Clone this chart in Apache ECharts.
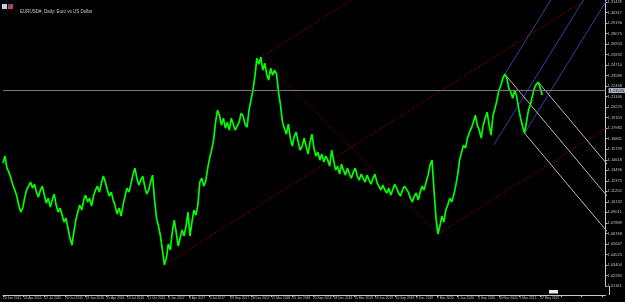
<!DOCTYPE html>
<html><head><meta charset="utf-8">
<script src="https://cdn.jsdelivr.net/npm/echarts@6/dist/echarts.min.js"></script>
<style>html,body{margin:0;padding:0;background:#000;}#c{width:625px;height:302px;}</style>
</head><body><div id="c"></div>
<script>
const chartTitle = "EURUSD#, Daily: Euro vs US Dollar";
const xLabels = ["23 Jan 2015","23 Apr 2015","22 Jul 2015","20 Oct 2015","19 Jan 2016","15 Apr 2016","13 Jul 2016","11 Oct 2016","6 Jan 2017","4 Apr 2017","3 Jul 2017","29 Sep 2017","28 Dec 2017","27 Mar 2018","25 Jun 2018","20 Sep 2018","18 Dec 2018","15 Mar 2019","13 Jun 2019","10 Sep 2019","9 Dec 2019","9 Mar 2020","4 Jun 2020","2 Sep 2020","30 Nov 2020","2 Mar 2021","27 May 2021"];
const barsPerLabel = 63;
const barStep = 6;
const closes = [
1.1426,1.1501,1.1373,1.1330,1.1266,1.1192,1.1139,1.1075,1.0979,1.0904,
1.0947,1.1053,1.1139,1.1181,1.1224,1.1160,1.1202,1.1117,1.1064,1.1139,
1.1181,1.1085,1.1000,1.1053,1.0957,1.1032,1.1096,1.0979,1.0904,1.0947,
1.0872,1.0798,1.0840,1.0734,1.0627,1.0553,1.0691,1.0819,1.0904,1.0979,
1.0926,1.1032,1.1085,1.1011,1.1053,1.0968,1.1075,1.1139,1.1181,1.1117,
1.1213,1.1288,1.1224,1.1139,1.1075,1.1117,1.1032,1.0968,1.0883,1.0947,
1.0862,1.0979,1.1075,1.1160,1.1117,1.1202,1.1298,1.1373,1.1266,1.1192,
1.1245,1.1288,1.1181,1.1096,1.1139,1.1224,1.1298,1.1032,1.0840,1.0755,
1.0649,1.0500,1.0340,1.0414,1.0563,1.0500,1.0691,1.0819,1.0691,1.0542,
1.0627,1.0713,1.0649,1.0755,1.0904,1.0649,1.0798,1.0926,1.0872,1.0979,
1.1224,1.1266,1.1181,1.1234,1.1373,1.1479,1.1564,1.1671,1.1863,1.1990,
1.1937,1.1831,1.1905,1.1799,1.1863,1.1777,1.1905,1.1841,1.1777,1.1820,
1.1863,1.1959,1.1927,1.1841,1.1809,1.1990,1.2097,1.2203,1.2353,1.2544,
1.2480,1.2555,1.2417,1.2491,1.2374,1.2310,1.2438,1.2363,1.2417,1.2374,
1.2182,1.2044,1.1863,1.1799,1.1735,1.1841,1.1692,1.1607,1.1714,1.1756,
1.1650,1.1564,1.1607,1.1692,1.1607,1.1522,1.1650,1.1735,1.1586,1.1501,
1.1543,1.1458,1.1522,1.1437,1.1501,1.1458,1.1394,1.1564,1.1458,1.1352,
1.1394,1.1309,1.1415,1.1352,1.1298,1.1373,1.1309,1.1266,1.1330,1.1373,
1.1288,1.1245,1.1309,1.1266,1.1224,1.1298,1.1245,1.1202,1.1266,1.1309,
1.1224,1.1181,1.1139,1.1192,1.1139,1.1107,1.1160,1.1085,1.1139,1.1202,
1.1160,1.1107,1.1075,1.1139,1.1181,1.1202,1.1117,1.1053,1.1011,1.1075,
1.1107,1.1032,1.1117,1.1181,1.1139,1.1224,1.1298,1.1405,1.1458,1.1139,
1.0840,1.0670,1.0755,1.0862,1.0798,1.0926,1.0979,1.1053,1.1011,1.1085,
1.1181,1.1298,1.1458,1.1543,1.1618,1.1586,1.1692,1.1756,1.1799,1.1863,
1.1937,1.1831,1.1777,1.1692,1.1831,1.1905,1.1969,1.1831,1.1724,1.1937,
1.2012,1.2097,1.2203,1.2257,1.2331,1.2374,1.2331,1.2225,1.2182,1.2118,
1.2203,1.2140,1.2012,1.1905,1.1820,1.1746,1.1863,1.1990,1.2054,1.2140,
1.2225,1.2267,1.2289,1.2225,1.2152
];
const currentPrice = 1.2152;
// price axis: lowest label, label step, top of window
const yLabelMin = 1.01161;
const yLabelStep = 0.011214;
const yTop = 1.3162;
const xMax = 1837;
// trend lines: [[bar, price],[bar, price]]
const redLines = [
  [[492,1.0340],[1810,1.3244]],
  [[786,1.2555],[1100,1.3247]],
  [[786,1.2555],[1326,1.0670]],
  [[1326,1.0670],[1870,1.1868]]
];
const blueLines = [
  [[1530,1.2374],[1700,1.3334]],
  [[1496,1.1618],[1790,1.3279]],
  [[1590,1.1746],[1860,1.3272]]
];
const forkLines = [
  [[1530,1.2374],[1860,1.0999]],
  [[1632,1.2289],[1860,1.1339]],
  [[1590,1.1746],[1860,1.0621]]
];

const chart = echarts.init(document.getElementById('c'), null, {renderer:'canvas'});
const font = 'Liberation Sans, DejaVu Sans, sans-serif';
const series = [];
function addLines(list, color, type, z){
  list.forEach(l => series.push({
    type:'line', data:l, showSymbol:false, silent:true, z:z,
    lineStyle:{color:color, width:1, type:type}, clip:true
  }));
}
addLines(redLines, '#c00000', [1,2], 3);
addLines(blueLines, '#2a44a0', 'solid', 3);
addLines(forkLines, '#b8b8b8', 'solid', 3);
series.push({
  type:'line', data: closes.map((c,i)=>[i*barStep, c]), showSymbol:false, z:4,
  lineStyle:{color:'#00ff00', width:1.7},
  markLine:{
    silent:true, symbol:'none', animation:false,
    lineStyle:{color:'#7a7a7a', width:1, type:'solid'},
    data:[{yAxis: currentPrice}],
    label:{show:true, position:'end', distance:3, formatter: currentPrice.toFixed(5),
      fontSize:4, fontFamily:font, color:'#111', backgroundColor:'#aab2c2', padding:[1,1,0,1]}
  }
});

chart.setOption({
  backgroundColor:'#000',
  animation:false,
  title:{text:chartTitle, left:15, top:4, textStyle:{fontSize:4.5, color:'#c8c8c8', fontWeight:'normal', fontFamily:font}},
  grid:{left:0, right:16, top:0, bottom:16},
  xAxis:{type:'value', min:0, max:xMax, interval:barsPerLabel, offset:9,
    axisLine:{show:true, onZero:false, lineStyle:{color:'#c8c8c8', width:1}},
    axisTick:{show:true, length:2, lineStyle:{color:'#c8c8c8'}},
    splitLine:{show:false},
    axisLabel:{fontSize:3.3, fontFamily:font, color:'#c0c0c0', margin:2, align:'left', showMinLabel:true, showMaxLabel:false,
      formatter:v=>{const k=Math.round(v/barsPerLabel); return (Math.abs(v-k*barsPerLabel)<0.5 && xLabels[k])?xLabels[k]:'';}}
  },
  yAxis:{type:'value', position:'right', min:yLabelMin, max:yTop, interval:yLabelStep,
    axisLine:{show:true, onZero:false, lineStyle:{color:'#c8c8c8', width:1}},
    axisTick:{show:true, length:2, lineStyle:{color:'#c8c8c8'}},
    splitLine:{show:false},
    axisLabel:{fontSize:4, fontFamily:font, color:'#c0c0c0', margin:2, showMaxLabel:false,
      formatter:v=>v.toFixed(5)}
  },
  graphic:[
    {type:'line', shape:{x1:609.5,y1:286,x2:609.5,y2:295}, style:{stroke:'#c8c8c8', lineWidth:1}},
    {type:'rect', shape:{x:2,y:4,width:5,height:5}, style:{fill:'#c4cce4'}},
    {type:'rect', shape:{x:8,y:4,width:5,height:5}, style:{fill:'#d03a4a'}},
    {type:'rect', shape:{x:8,y:4,width:2.5,height:2.5}, style:{fill:'#3a52b0'}},
    {type:'rect', shape:{x:549,y:290,width:9,height:3.5}, style:{fill:'#e8e8e8'}}
  ],
  series: series
});
</script></body></html>
